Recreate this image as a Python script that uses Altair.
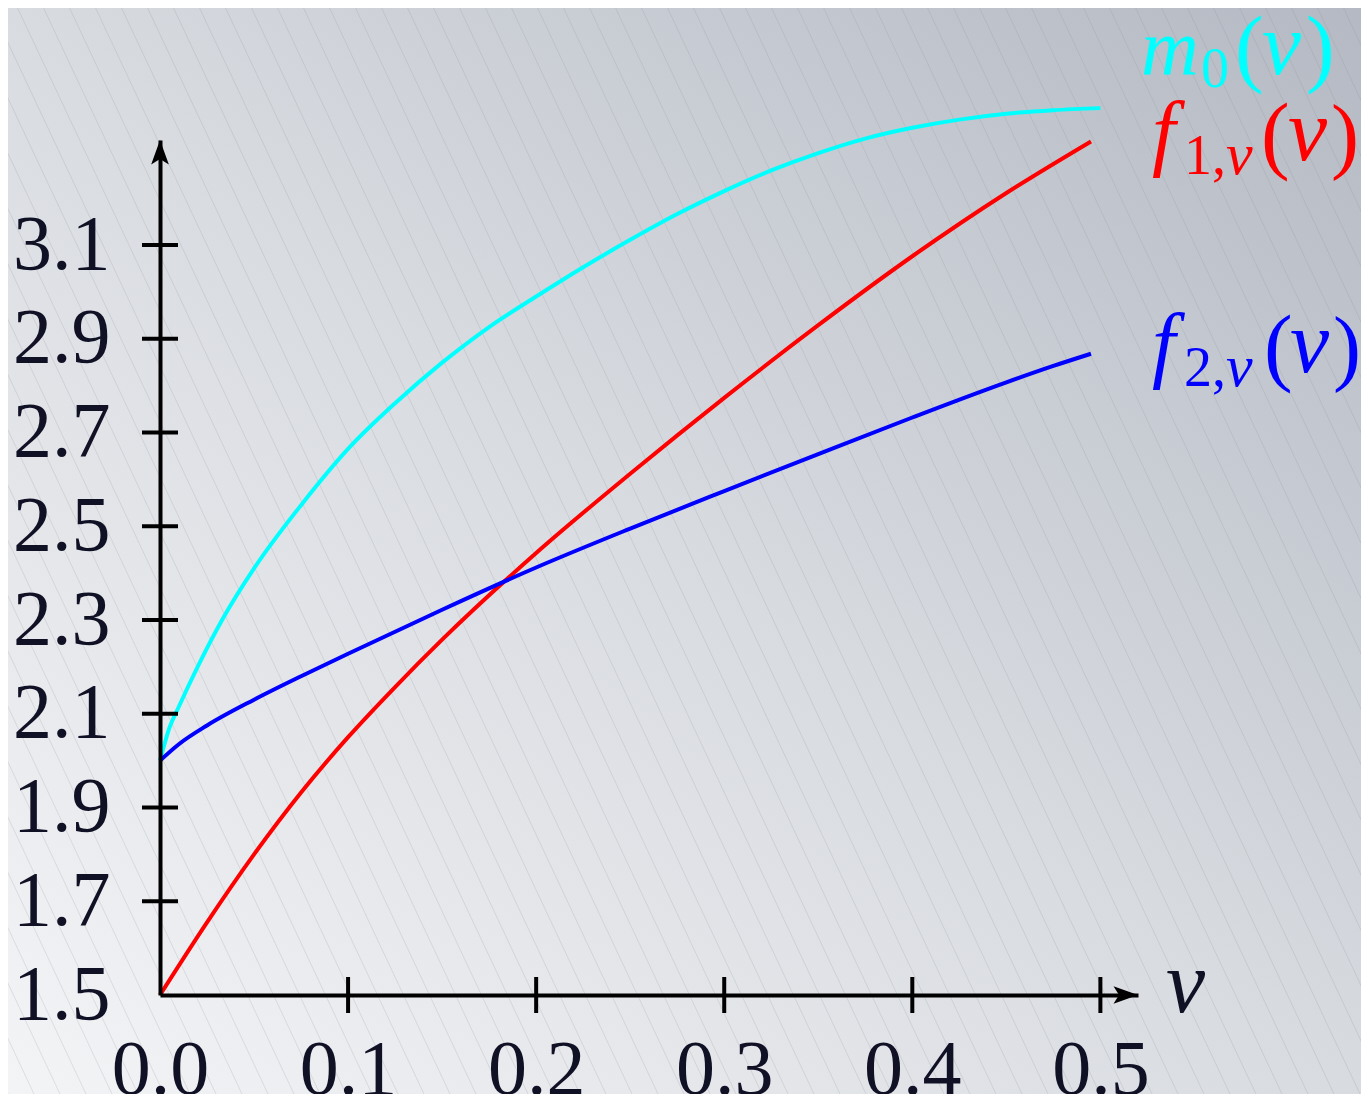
import altair as alt
import pandas as pd
import numpy as np

# ---------------- data ----------------
nu_m0 = [0.0, 0.005, 0.01, 0.02, 0.033, 0.05, 0.075, 0.1, 0.125, 0.15, 0.175, 0.2, 0.225, 0.25,
         0.275, 0.3, 0.325, 0.35, 0.375, 0.4, 0.425, 0.45, 0.475, 0.5]
m0 = [2.0, 2.07, 2.115, 2.2, 2.3, 2.41, 2.545, 2.665, 2.7625, 2.849, 2.925, 2.99, 3.0525, 3.111,
      3.166, 3.215, 3.259, 3.296, 3.327, 3.35, 3.3675, 3.38, 3.3875, 3.392]

nu_f1 = [0.0, 0.025, 0.05, 0.075, 0.1, 0.125, 0.15, 0.2, 0.25, 0.3, 0.35, 0.4, 0.45, 0.495]
f1 = [1.5, 1.655, 1.80, 1.932, 2.05, 2.157, 2.258, 2.443, 2.612, 2.774, 2.929, 3.076, 3.211, 3.321]

nu_f2 = [0.0, 0.01, 0.025, 0.05, 0.075, 0.1, 0.15, 0.2, 0.25, 0.3, 0.35, 0.4, 0.45, 0.475, 0.495]
f2 = [2.0, 2.035, 2.075, 2.13, 2.18, 2.228, 2.322, 2.412, 2.495, 2.575, 2.654, 2.732, 2.807, 2.842, 2.868]

series_names = ["m0", "f1", "f2"]
series_colors = ["#00ffff", "#ff0000", "#0000ff"]

x_tick_values = [0.0, 0.1, 0.2, 0.3, 0.4, 0.5]
y_tick_values = [1.5, 1.7, 1.9, 2.1, 2.3, 2.5, 2.7, 2.9, 3.1]

# ---------------- geometry ----------------
X_MAX = 0.52
Y_MIN, Y_MAX = 1.5, 3.324
W, H = 978, 855
PAD_L, PAD_T, PAD_R, PAD_B = 152, 132, 223, 99
FONT = "Liberation Serif"
INK = "#111126"
AXW = 4.0
LW = 4.0

curves = pd.concat([
    pd.DataFrame({"nu": nu_m0, "val": m0, "series": "m0"}),
    pd.DataFrame({"nu": nu_f1, "val": f1, "series": "f1"}),
    pd.DataFrame({"nu": nu_f2, "val": f2, "series": "f2"}),
], ignore_index=True)

xs = alt.Scale(domain=[0, X_MAX], nice=False, zero=False)
ys = alt.Scale(domain=[Y_MIN, Y_MAX], nice=False, zero=False)

one = pd.DataFrame({"a": [0]})

# background gradient
bg = alt.Chart(one).mark_rect(
    color=alt.LinearGradient(
        gradient="linear",
        stops=[alt.GradientStop(color="#f3f4f6", offset=0),
               alt.GradientStop(color="#d8dbe0", offset=0.5),
               alt.GradientStop(color="#b4b9c3", offset=1)],
        x1=0, y1=1, x2=1, y2=0),
).encode(x=alt.value(-PAD_L), x2=alt.value(W + PAD_R),
         y=alt.value(-PAD_T), y2=alt.value(H + PAD_B))

# fine diagonal hatching (background texture), mapped into data units
px_per_x = W / X_MAX
px_per_y = H / (Y_MAX - Y_MIN)
top_px, bot_px = -PAD_T, H + PAD_B
slant = 0.47 * (bot_px - top_px)
starts = np.arange(-PAD_L - slant, W + PAD_R, 26.0)
hatch = pd.DataFrame({
    "hx": starts / px_per_x,
    "hx2": (starts + slant) / px_per_x,
    "hy": Y_MIN + (H - top_px) / px_per_y,
    "hy2": Y_MIN + (H - bot_px) / px_per_y,
})
hatch_layer = alt.Chart(hatch).mark_rule(
    color="#8c9098", strokeWidth=0.8, opacity=0.28, clip=False
).encode(x=alt.X("hx:Q", scale=xs), x2="hx2:Q", y=alt.Y("hy:Q", scale=ys), y2="hy2:Q")

x_axis = alt.Axis(values=x_tick_values, format=".1f", title=None, grid=False,
                  ticks=False, tickSize=0, domain=True, domainColor="black",
                  domainWidth=AXW, labelFont=FONT, labelFontSize=78,
                  labelColor=INK, labelPadding=36, labelFlush=False,
                  labelOverlap=False, zindex=1)
y_axis = alt.Axis(values=y_tick_values, format=".1f", title=None, grid=False,
                  ticks=False, tickSize=0, domain=True, domainColor="black",
                  domainWidth=AXW, labelFont=FONT, labelFontSize=78,
                  labelColor=INK, labelPadding=50, labelFlush=False,
                  labelOverlap=False, zindex=1)

lines = alt.Chart(curves).mark_line(strokeWidth=LW, clip=False, interpolate="monotone").encode(
    x=alt.X("nu:Q", scale=xs, axis=x_axis),
    y=alt.Y("val:Q", scale=ys, axis=y_axis),
    color=alt.Color("series:N", scale=alt.Scale(domain=series_names, range=series_colors), legend=None),
    detail="series:N",
)

xt = pd.DataFrame({"t": [v for v in x_tick_values if v > 0]})
yt = pd.DataFrame({"t": [v for v in y_tick_values if v > Y_MIN]})
x_ticks = alt.Chart(xt).mark_rule(color="black", strokeWidth=AXW).encode(
    x=alt.X("t:Q", scale=xs), y=alt.value(H - 18), y2=alt.value(H + 18))
y_ticks = alt.Chart(yt).mark_rule(color="black", strokeWidth=AXW).encode(
    y=alt.Y("t:Q", scale=ys), x=alt.value(-18), x2=alt.value(18))

up_arrow = "M0,0 L0.72,2 L0,1.55 L-0.72,2 Z"
right_arrow = "M0,0 L-2,-0.72 L-1.55,0 L-2,0.72 Z"
arr_up = alt.Chart(one).mark_point(shape=up_arrow, size=600, filled=True, color="black",
                                   opacity=1, clip=False).encode(
    x=alt.datum(0.0, scale=xs), y=alt.datum(Y_MAX, scale=ys))
arr_right = alt.Chart(one).mark_point(shape=right_arrow, size=600, filled=True, color="black",
                                      opacity=1, clip=False).encode(
    x=alt.datum(X_MAX, scale=xs), y=alt.datum(Y_MIN, scale=ys))

# text labels (page coords converted to plot-relative coords)
OX, OY = 8 + PAD_L, 8 + PAD_T


def txt(s, px, py, size, color, italic):
    return alt.Chart(one).mark_text(
        text=s, font=FONT, fontSize=size, color=color, align="left",
        baseline="alphabetic", fontStyle="italic" if italic else "normal",
    ).encode(x=alt.value(px - OX), y=alt.value(py - OY))


CY, RD, BL = "#00ffff", "#ff0000", "#0000ff"
labels = [
    # m_0(nu)
    txt("m", 1141, 74, 80, CY, True),
    txt("0", 1201, 87, 56, CY, False),
    txt("(", 1235, 76, 86, CY, False),
    txt("ν", 1262, 74, 88, CY, True),
    txt(")", 1306, 76, 86, CY, False),
    # f_{1,nu}(nu)
    txt("f", 1152, 160, 84, RD, True),
    txt("1,", 1184, 174, 56, RD, False),
    txt("ν", 1226, 174, 60, RD, True),
    txt("(", 1261, 163, 86, RD, False),
    txt("ν", 1288, 160, 88, RD, True),
    txt(")", 1331, 163, 84, RD, False),
    # f_{2,nu}(nu)
    txt("f", 1152, 372, 84, BL, True),
    txt("2,", 1184, 386, 56, BL, False),
    txt("ν", 1226, 386, 60, BL, True),
    txt("(", 1264, 375, 86, BL, False),
    txt("ν", 1290, 372, 88, BL, True),
    txt(")", 1333, 375, 84, BL, False),
    # axis variable
    txt("ν", 1166, 1012, 88, INK, True),
]

chart = alt.layer(bg, hatch_layer, lines, x_ticks, y_ticks, arr_up, arr_right, *labels).properties(
    width=W, height=H,
    padding={"left": PAD_L, "top": PAD_T, "right": PAD_R, "bottom": PAD_B},
    autosize=alt.AutoSizeParams(type="none"),
).configure_view(stroke=None).configure(background="#ffffff")

chart.save("out.html", embed_options={"renderer": "svg", "actions": False})
